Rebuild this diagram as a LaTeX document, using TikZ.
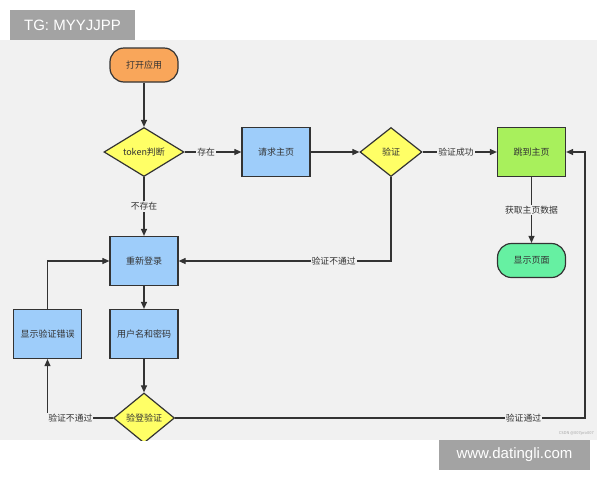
\documentclass[tikz,border=0pt]{standalone}
\usepackage{fontspec}
\setmainfont{Noto Sans CJK SC}
\newfontfamily\wmfont{Liberation Sans}
\usetikzlibrary{shapes.geometric,arrows.meta}
\definecolor{bgg}{HTML}{F1F1F1}
\definecolor{ln}{HTML}{333333}
\definecolor{bluef}{HTML}{9ECDFA}
\definecolor{orf}{HTML}{F9A65A}
\definecolor{yelf}{HTML}{FFFF66}
\definecolor{grnf}{HTML}{A8F05C}
\definecolor{tealf}{HTML}{66F0A2}
\definecolor{wmg}{HTML}{A3A3A3}
\tikzset{
  x=1pt,y=-1pt,
  base/.style={draw=ln,line width=1.2pt,text=ln,font=\fontsize{9}{10}\selectfont,inner sep=0pt},
  blk/.style={base,fill=bluef,minimum width=68pt,minimum height=49pt},
  term/.style={base,rounded corners=14pt,minimum width=68pt,minimum height=34pt},
  dia/.style={base,diamond,aspect=1.6,fill=yelf},
  conn/.style={draw=ln,line width=1.1pt,-{Triangle[length=7pt,width=6pt]}},
  lab/.style={fill=bgg,text=ln,font=\fontsize{8.8}{9}\selectfont,inner sep=1pt}
}
\begin{document}
\begin{tikzpicture}
\useasboundingbox (0,0) rectangle (600,480);
\fill[white] (0,0) rectangle (600,480);
\begin{scope}
\clip (0,40) rectangle (597,440);
\fill[bgg] (0,40) rectangle (597,440);
\node[term,fill=orf] (start) at (144,65) {打开应用};
\node[dia,minimum width=80pt,minimum height=49pt] (tok) at (144,152) {token判断};
\node[blk] (req) at (276,152) {请求主页};
\node[dia,minimum width=62pt,minimum height=49pt] (ver) at (391,152) {验证};
\node[blk,fill=grnf] (jump) at (531.5,152) {跳到主页};
\node[term,fill=tealf] (show) at (531.5,260.5) {显示页面};
\node[blk] (relog) at (144,261) {重新登录};
\node[blk] (user) at (144,334) {用户名和密码};
\node[blk] (err) at (47.5,334) {显示验证错误};
\node[dia,minimum width=61pt,minimum height=50pt] (chk) at (144,418) {验登验证};
\coordinate (c1) at (391,261);
\coordinate (c2) at (47.5,418);
\coordinate (c3) at (47.5,261);
\coordinate (c4) at (585,418);
\coordinate (c5) at (585,152);
\draw[conn] (start) -- (tok);
\draw[conn] (tok) -- node[lab,pos=0.38]{存在} (req);
\draw[conn] (req) -- (ver);
\draw[conn] (ver) -- node[lab,pos=0.45]{验证成功} (jump);
\draw[conn] (jump) -- node[lab,pos=0.5]{获取主页数据} (show);
\draw[conn] (tok) -- node[lab,pos=0.5]{不存在} (relog);
\draw[conn] (ver.south) -- (c1) -- node[lab,pos=0.27]{验证不通过} (relog.east);
\draw[conn] (relog) -- (user);
\draw[conn] (user) -- (chk);
\draw[conn] (chk.west) -- node[lab,pos=0.65]{验证不通过} (c2) -- (err.south);
\draw[conn] (err.north) -- (c3) -- (relog.west);
\draw[conn] (chk.east) -- node[lab,pos=0.85]{验证通过} (c4) -- (c5) -- (jump.east);
\node[text=black!35,font=\fontsize{4}{5}\selectfont,anchor=east,inner sep=0pt] (csdn) at (594,433) {CSDN @007pro007};
\end{scope}
\node[fill=wmg,text=white,font=\wmfont\fontsize{15}{16}\selectfont,minimum width=125pt,minimum height=30pt,inner sep=0pt] (tg) at (72.5,25) {TG: MYYJJPP};
\node[fill=wmg,text=white,font=\wmfont\fontsize{15}{16}\selectfont,minimum width=151pt,minimum height=30pt,inner sep=0pt] (www) at (514.5,455) {www.datingli.com};
\end{tikzpicture}
\end{document}
